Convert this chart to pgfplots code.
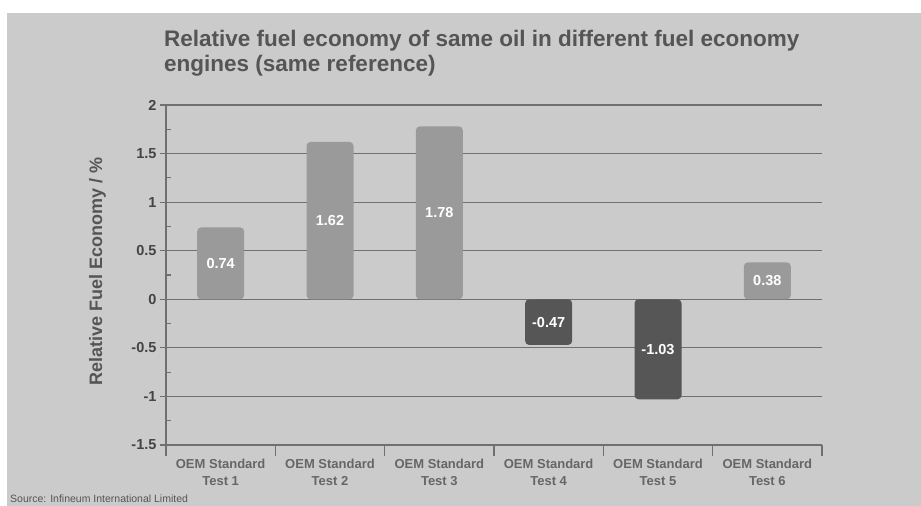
\documentclass[border=0pt]{standalone}
\usepackage{pgfplots}
\pgfplotsset{compat=1.18}
\usepackage{fontspec}
\setmainfont{Liberation Sans}
\definecolor{bg}{HTML}{CBCBCB}
\definecolor{posbar}{HTML}{9A9A9A}
\definecolor{negbar}{HTML}{565656}
\definecolor{gridc}{HTML}{707070}
\definecolor{txt}{HTML}{555555}
\definecolor{tick}{HTML}{444444}
\begin{document}
\begin{tikzpicture}[x=1pt,y=1pt]
\useasboundingbox (0,0) rectangle (921,506);
\fill[white] (0,0) rectangle (921,506);
\fill[bg] (7,0) rectangle (921,493);
\node[anchor=base west, text=txt, font=\fontsize{22.5}{26}\selectfont\bfseries, inner sep=0pt] at (164,459)
  {Relative fuel economy of same oil in different fuel economy};
\node[anchor=base west, text=txt, font=\fontsize{22.5}{26}\selectfont\bfseries, inner sep=0pt] at (164,434)
  {engines (same reference)};
\node[anchor=base west, text=txt, font=\fontsize{10.5}{11}\selectfont, inner sep=0pt] at (10,3) {Source: Infineum International Limited};
\begin{axis}[
  at={(166pt,61pt)}, anchor=south west,
  scale only axis, width=656pt, height=340pt,
  xmin=-0.5, xmax=5.5, ymin=-1.5, ymax=2,
  axis lines*=left,
  axis line style={draw=gridc, line width=1.2pt},
  ytick={-1.5,-1,...,2},
  ymajorgrids, major grid style={draw=gridc, line width=1.2pt},
  minor y tick num=1,
  minor tick length=-5pt,
  xtick={0,...,5},
  xticklabels={{OEM Standard\\Test 1},{OEM Standard\\Test 2},{OEM Standard\\Test 3},{OEM Standard\\Test 4},{OEM Standard\\Test 5},{OEM Standard\\Test 6}},
  extra y ticks={-1.5,-1,...,2},
  extra y tick labels={},
  extra y tick style={grid=none, major tick length=6pt},
  extra x ticks={-0.5,0.5,...,5.5},
  extra x tick labels={},
  extra x tick style={major tick length=11pt},
  tick align=outside,
  major tick length=0pt,
  tick style={draw=gridc, line width=1.2pt},
  /pgf/number format/assume math mode=true,
  y tick label style={font=\fontsize{14.5}{14.5}\selectfont\bfseries, text=tick, xshift=-6pt},
  x tick label style={font=\fontsize{13}{17}\selectfont\bfseries, text=txt!90!white, align=center, yshift=-11pt},
  ylabel={Relative Fuel Economy / \%},
  every axis y label/.style={at={(axis description cs:-0.1045,0.51)}, rotate=90, anchor=center, font=\fontsize{18}{18}\selectfont\bfseries, text=txt},
  clip=false,
]
\addplot[ybar, bar width=47pt, bar shift=0pt, fill=posbar, draw=none, rounded corners=4pt]
  coordinates {(0,0.74) (1,1.62) (2,1.78) (5,0.38)};
\addplot[ybar, bar width=47pt, bar shift=0pt, fill=negbar, draw=none, rounded corners=4pt]
  coordinates {(3,-0.47) (4,-1.03)};
\addplot[draw=none, mark=none, nodes near coords, point meta=explicit symbolic,
  every node near coord/.style={anchor=center, text=white, font=\fontsize{14.5}{14.5}\selectfont\bfseries}]
  table[meta=lab] {
x y lab
0 0.37 0.74
1 0.81 1.62
2 0.89 1.78
3 -0.235 -0.47
4 -0.515 -1.03
5 0.19 0.38
};
\end{axis}
\end{tikzpicture}
\end{document}
